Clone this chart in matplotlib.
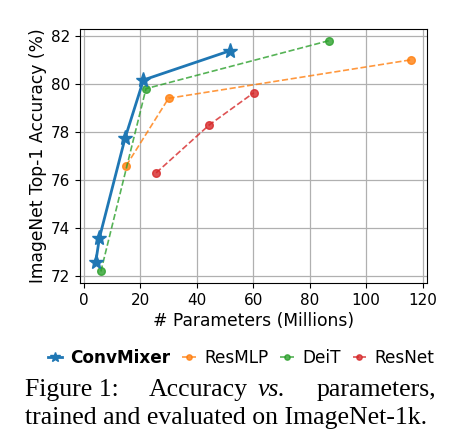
import matplotlib
matplotlib.use("Agg")
import matplotlib.pyplot as plt

# --- Daten (Parameter in Mio., Top-1 Accuracy in %) ---
convmixer_params = [4.2, 5.5, 14.6, 21.1, 51.6]
convmixer_acc    = [72.6, 73.6, 77.75, 80.16, 81.37]

resmlp_params = [15.0, 30.0, 116.0]
resmlp_acc    = [76.6, 79.4, 81.0]

deit_params = [6.0, 22.0, 87.0]
deit_acc    = [72.2, 79.8, 81.8]

resnet_params = [25.6, 44.5, 60.2]
resnet_acc    = [76.3, 78.3, 79.63]

xticks = [0, 20, 40, 60, 80, 100, 120]
yticks = [72, 74, 76, 78, 80, 82]

fig = plt.figure(figsize=(4.65, 4.38), dpi=100)
ax = fig.add_axes([80 / 465, 1 - 283 / 438, 347 / 465, 254 / 438])

ax.plot(convmixer_params, convmixer_acc, "-*", color="#1f77b4",
        linewidth=2, markersize=11, label="ConvMixer", zorder=5)
ax.plot(resmlp_params, resmlp_acc, "--o", color="#ff7f0e", alpha=0.8,
        linewidth=1.2, markersize=5.5, label="ResMLP")
ax.plot(deit_params, deit_acc, "--o", color="#2ca02c", alpha=0.8,
        linewidth=1.2, markersize=5.5, label="DeiT")
ax.plot(resnet_params, resnet_acc, "--o", color="#d62728", alpha=0.8,
        linewidth=1.2, markersize=5.5, label="ResNet")

ax.set_xticks(xticks)
ax.set_yticks(yticks)
ax.tick_params(labelsize=11)
ax.grid(True, color="#b0b0b0", linewidth=0.9)
ax.set_axisbelow(True)
ax.set_xlabel("# Parameters (Millions)", fontsize=12.3, labelpad=3)
ax.set_ylabel("ImageNet Top-1 Accuracy (%)", fontsize=12.3, labelpad=3)

leg = ax.legend(loc="upper center", bbox_to_anchor=(0.465, -0.2), ncol=4,
                frameon=False, fontsize=12.2, handlelength=0.8,
                handletextpad=0.5, columnspacing=0.7, markerscale=0.7)
leg.get_texts()[0].set_fontweight("bold")

# --- Bildunterschrift (Blocksatz nachgebaut) ---
serif = "Liberation Serif"
y1 = 1 - 396 / 438
y2 = 1 - 424 / 438
fig.text(25 / 465, y1, "Figure 1:", family=serif, fontsize=18.5)
fig.text(149 / 465, y1, "Accuracy", family=serif, fontsize=18.5)
fig.text(258 / 465, y1, "vs.", family=serif, fontsize=18.5, style="italic")
fig.text(436 / 465, y1, "parameters,", family=serif, fontsize=18.5, ha="right")
fig.text(25 / 465, y2, "trained and evaluated on ImageNet-1k.",
         family=serif, fontsize=18.5)

fig.savefig("out.png", dpi=100)
